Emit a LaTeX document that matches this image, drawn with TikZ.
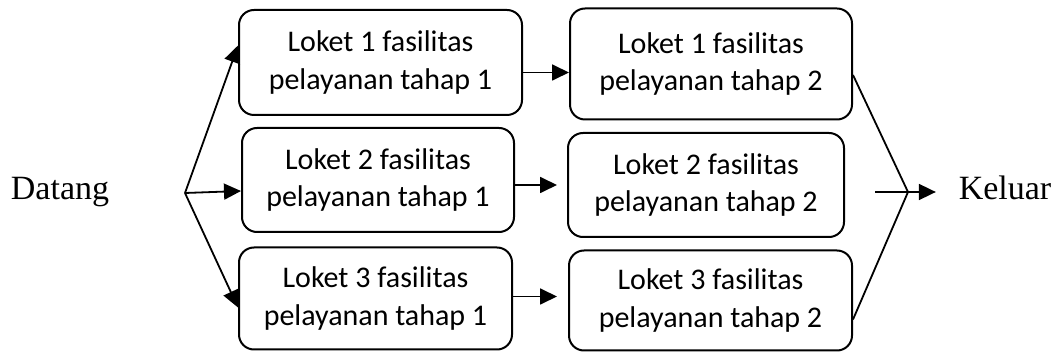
\documentclass[tikz,border=0pt]{standalone}
\usepackage{fontspec}
\setmainfont{Liberation Serif}
\newfontfamily\loketfont{Carlito}
\usetikzlibrary{arrows.meta}

\begin{document}
\begin{tikzpicture}[x=1pt,y=-1pt,line width=1.8pt,
  loket/.style={rectangle,rounded corners=15pt,draw,line width=2pt,align=center,
    font=\loketfont\fontsize{30}{37.5}\selectfont},
  panah/.style={-{Triangle[length=17pt,width=16pt]},line width=1.8pt}]
\useasboundingbox (0,0) rectangle (1055,352);

% tahap 1
\node (L11)[loket,minimum width=283pt,minimum height=105pt] at (380.5,62.5) {Loket 1 fasilitas\\pelayanan tahap 1};
\node (L21)[loket,minimum width=272pt,minimum height=104pt] at (378,180) {Loket 2 fasilitas\\pelayanan tahap 1};
\node (L31)[loket,minimum width=273pt,minimum height=102pt] at (375.5,298.5) {Loket 3 fasilitas\\pelayanan tahap 1};

% tahap 2
\node (L12)[loket,minimum width=282pt,minimum height=111pt] at (711,64) {Loket 1 fasilitas\\pelayanan tahap 2};
\node (L22)[loket,minimum width=276pt,minimum height=104pt] at (706,185) {Loket 2 fasilitas\\pelayanan tahap 2};
\node (L32)[loket,minimum width=283pt,minimum height=100pt] at (710.5,300.5) {Loket 3 fasilitas\\pelayanan tahap 2};

\node (datang)[anchor=base,font=\fontsize{34}{40}\selectfont] at (60,200) {Datang};
\node (keluar)[anchor=base,inner xsep=22pt,font=\fontsize{34}{40}\selectfont] at (1005,200) {Keluar};

\coordinate (split) at (185,193);
\coordinate (join) at (908,192);
\coordinate (out) at (875,192);

\draw[panah] (split) -- ([yshift=17pt]L11.west);
\draw[panah] (split) -- ([yshift=-11pt]L21.west);
\draw[panah] (split) -- ([yshift=-9pt]L31.west);

\draw[panah] ([yshift=-10pt]L11.east) -- ([yshift=-10pt]L11.east -| L12.west);
\draw[panah] ([yshift=-5pt]L21.east) -- ([yshift=-5pt,xshift=-10pt]L21.east -| L22.west);
\draw[panah] ([yshift=2pt]L31.east) -- ([yshift=2pt,xshift=-11pt]L31.east -| L32.west);

\draw ([yshift=-11pt]L12.east) -- (join) -- ([yshift=-19pt]L32.east);
\draw[panah] (out) -- (out -| keluar.west);
\end{tikzpicture}
\end{document}
